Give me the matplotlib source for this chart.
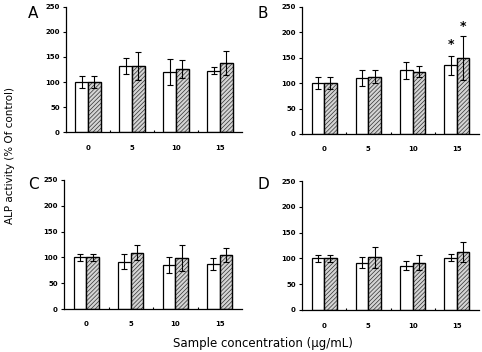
import matplotlib
matplotlib.use("Agg")
import matplotlib.pyplot as plt
import numpy as np

plt.rcParams['font.family'] = ['DejaVu Sans']
plt.rcParams['hatch.linewidth'] = 0.5

categories = ["0", "5", "10", "15"]
panels = ["A", "B", "C", "D"]

white_A = [100, 132, 120, 123]
white_A_err = [12, 16, 25, 6]
hatch_A = [100, 132, 126, 138]
hatch_A_err = [12, 27, 17, 24]

white_B = [100, 110, 125, 135]
white_B_err = [12, 15, 17, 19]
hatch_B = [100, 113, 123, 150]
hatch_B_err = [12, 12, 10, 43]

white_C = [100, 92, 85, 87]
white_C_err = [7, 14, 15, 12]
hatch_C = [100, 109, 99, 105]
hatch_C_err = [7, 15, 25, 13]

white_D = [100, 92, 86, 101]
white_D_err = [7, 10, 8, 7]
hatch_D = [100, 102, 92, 112]
hatch_D_err = [7, 20, 14, 19]

stars_B = [(3, 176, -1), (3, 212, 1)]  # (category index, y value, side)

W, H = 482, 352
boxes = {
    "A": (66, 242, 132.3, 6.7),
    "B": (302, 479, 134, 7),
    "C": (64, 242, 309, 180),
    "D": (302, 479, 310, 181),
}
data = {
    "A": (white_A, white_A_err, hatch_A, hatch_A_err),
    "B": (white_B, white_B_err, hatch_B, hatch_B_err),
    "C": (white_C, white_C_err, hatch_C, hatch_C_err),
    "D": (white_D, white_D_err, hatch_D, hatch_D_err),
}
label_pos = {"A": (33, 14), "B": (263, 14), "C": (33, 185), "D": (263, 185)}

fig = plt.figure(figsize=(W / 100, H / 100), dpi=100)
bw = 0.285
x = np.arange(len(categories))
for p in panels:
    l, r, b, t = boxes[p]
    ax = fig.add_axes([l / W, 1 - b / H, (r - l) / W, (b - t) / H])
    wv, we, hv, he = data[p]
    ax.bar(x - bw / 2, wv, bw, color="white", edgecolor="black", linewidth=0.9, zorder=2)
    ax.bar(x + bw / 2, hv, bw, color="#d4d4d4", edgecolor="#303030", linewidth=0.9,
           hatch="////////", zorder=2)
    ax.bar(x + bw / 2, hv, bw, color="none", edgecolor="black", linewidth=0.9, zorder=2)
    ax.errorbar(x - bw / 2, wv, yerr=we, fmt="none", ecolor="black", elinewidth=0.8,
                capsize=2.2, capthick=0.8, zorder=3)
    ax.errorbar(x + bw / 2, hv, yerr=he, fmt="none", ecolor="black", elinewidth=0.8,
                capsize=2.2, capthick=0.8, zorder=3)
    ax.set_xlim(-0.5, 3.5)
    ax.set_ylim(0, 250)
    ax.set_yticks([0, 50, 100, 150, 200, 250])
    ax.set_xticks(x)
    ax.set_xticklabels(categories)
    ax.set_xticks([0.5, 1.5, 2.5], minor=True)
    ax.tick_params(axis="x", which="major", length=0, pad=9, labelsize=5)
    ax.tick_params(axis="x", which="minor", length=1.5, direction="in", width=0.8)
    ax.tick_params(axis="y", length=2, width=0.8, pad=2.5, labelsize=5)
    for lab in ax.get_xticklabels() + ax.get_yticklabels():
        lab.set_fontweight("bold")
    ax.spines["top"].set_visible(False)
    ax.spines["right"].set_visible(False)
    ax.spines["left"].set_linewidth(0.9)
    ax.spines["bottom"].set_linewidth(0.9)
    ax.patch.set_alpha(0)
    if p == "B":
        for ci, yv, side in stars_B:
            ax.text(ci + side * bw / 2, yv, "*", ha="center", va="center",
                    fontsize=9, fontweight="bold")
    lx, ly = label_pos[p]
    fig.text(lx / W, 1 - ly / H, p, ha="center", va="center", fontsize=11)

fig.text(10 / W, 1 - 156 / H, "ALP activity (% Of control)", rotation=90,
         ha="center", va="center", fontsize=7.5)
fig.text(263 / W, 1 - 343 / H, "Sample concentration (µg/mL)", ha="center",
         va="center", fontsize=8.5)

fig.savefig("out.png", dpi=100)
